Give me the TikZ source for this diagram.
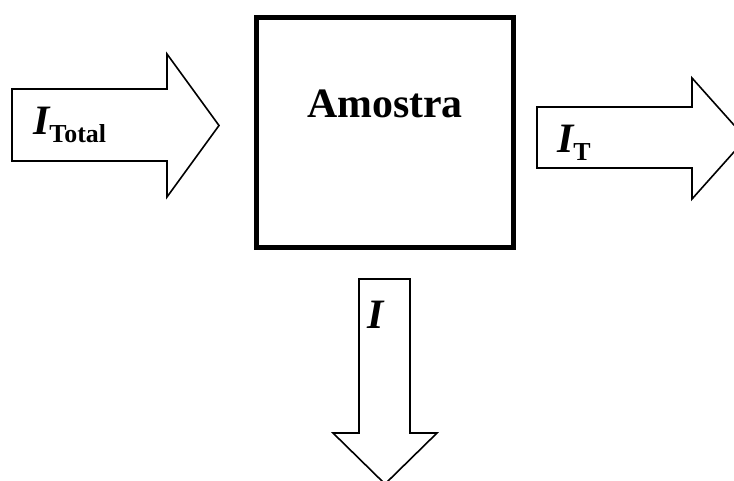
\documentclass[tikz,border=0pt]{standalone}
\usepackage{fontspec}
\setmainfont{Liberation Serif}
\usetikzlibrary{positioning}

\tikzset{
  seta/.style={draw=black, line width=1.6bp, fill=white, line join=miter},
  rotulo/.style={inner sep=0pt, anchor=base west, font=\fontsize{42}{42}\selectfont\bfseries\itshape},
}
\newcommand{\subind}[1]{{\fontsize{26}{30}\selectfont\upshape\raisebox{-8bp}{#1}}}

\begin{document}
\begin{tikzpicture}[x=1bp,y=-1bp]
  \useasboundingbox (0,0) rectangle (734,481);
  % caixa da amostra
  \node[draw, line width=5bp, minimum width=257bp, minimum height=230bp, inner sep=0pt] (caixa) at (385,132.5) {};
  \node[inner sep=0pt, anchor=base, font=\fontsize{42}{42}\selectfont\bfseries] (amostra) at (385,118) {Amostra};
  % setas
  \draw[seta] (12,89) -- (167,89) -- (167,54) -- (219,125.5) -- (167,197) -- (167,161) -- (12,161) -- cycle;
  \draw[seta] (537,107) -- (692,107) -- (692,78) -- (746,138.5) -- (692,199) -- (692,168) -- (537,168) -- cycle;
  \draw[seta] (359,279) -- (410,279) -- (410,433) -- (437,433) -- (385,484) -- (333,433) -- (359,433) -- cycle;
  % rotulos
  \node[rotulo] (itotal) at (33,135) {I\subind{Total}};
  \node[rotulo] (it) at (557,153) {I\subind{T}};
  \node[rotulo] (i) at (367,328) {I};
\end{tikzpicture}
\end{document}
